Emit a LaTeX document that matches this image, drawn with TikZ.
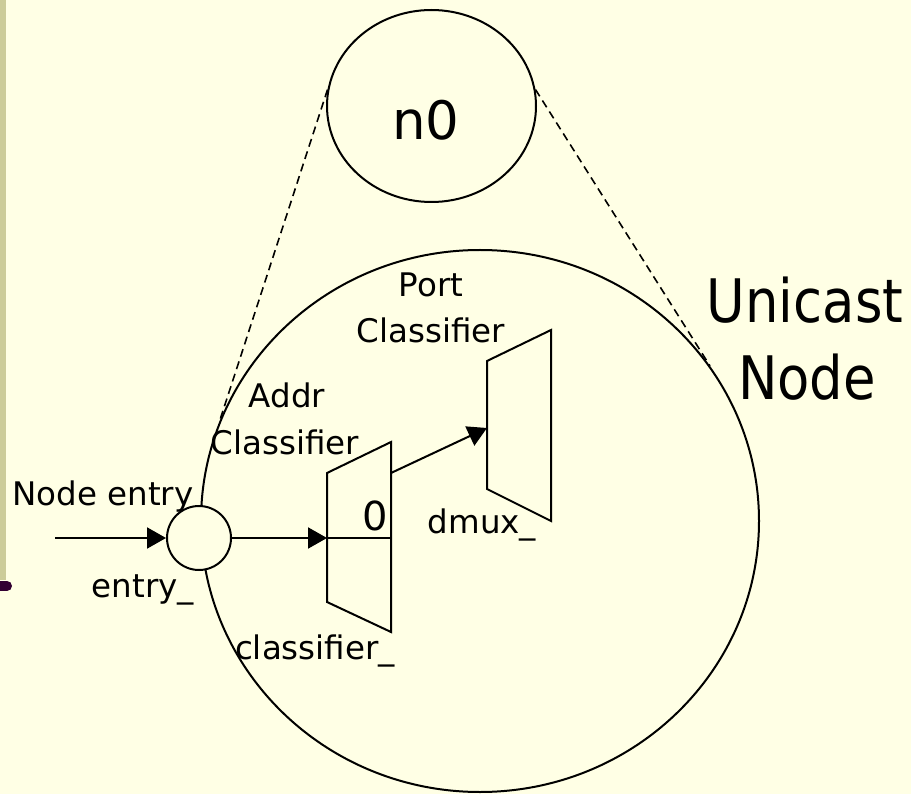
\documentclass[tikz,border=0pt]{standalone}
\usepackage{graphicx}
\usepackage{fontspec}
\setmainfont{DejaVu Sans}
\usetikzlibrary{arrows.meta,shapes.geometric}
\definecolor{bg}{RGB}{255,255,229}
\definecolor{barcol}{RGB}{204,204,153}
\definecolor{dotcol}{RGB}{51,0,51}
\begin{document}
\begin{tikzpicture}[x=1pt,y=-1pt,line width=2pt,
  lbl/.style={font=\fontsize{32.5}{40}\selectfont,inner sep=0,anchor=base},
  biglbl/.style={font=\fontsize{60}{72}\selectfont,inner sep=0,anchor=base},
  arr/.style={-{Triangle[length=19pt,width=21pt]}},
  dashline/.style={dash pattern=on 8pt off 5pt,line width=1.6pt},
  trap/.style={draw,line join=miter}]
\useasboundingbox (0,0) rectangle (911,794);
\fill[bg] (0,0) rectangle (911,794);
\fill[barcol] (0,0) rectangle (6,580);
\draw[dotcol,line width=10pt,line cap=round] (-6,586) -- (7,586);

% big node circle
\node[ellipse,draw,minimum width=558pt,minimum height=542pt,inner sep=0] (uni) at (480,521) {};
% n0 circle
\node[ellipse,draw,minimum width=209pt,minimum height=192pt,inner sep=0] (n0) at (431.5,106) {};
\node[font=\fontsize{53}{60}\selectfont,inner sep=0,anchor=base] (n0lbl) at (426,140) {n0};

% dashed zoom lines
\draw[dashline] (n0.171) -- (uni.159);
\draw[dashline] (n0.9) -- (uni.34);

% entry circle
\node[circle,draw,fill=bg,minimum size=64pt,inner sep=0] (entry) at (199,538) {};
\coordinate (in) at (55,538);
\draw[arr] (in) -- (entry.west);

% classifier trapezoid
\coordinate (c1) at (327,473);
\coordinate (c2) at (391,442);
\coordinate (c3) at (391,632);
\coordinate (c4) at (327,602);
\coordinate (cin) at (327,538);
\coordinate (cmid) at (391,538);
\coordinate (cout) at (391,473);
\draw[trap] (c1) -- (c2) -- (c3) -- (c4) -- cycle;
\draw (cin) -- (cmid);
\draw[arr] (entry.east) -- (cin);
\node[font=\fontsize{40}{48}\selectfont,inner sep=0,anchor=base] (zero) at (375,530) {0};

% dmux trapezoid
\coordinate (d1) at (487,361);
\coordinate (d2) at (551,330);
\coordinate (d3) at (551,521);
\coordinate (d4) at (487,489);
\coordinate (din) at (487,428);
\draw[trap] (d1) -- (d2) -- (d3) -- (d4) -- cycle;
\draw[arr] (cout) -- (din);

% labels
\node[lbl] (nodeentry) at (103,505) {Node entry};
\node[lbl] (entrylbl) at (143,597) {entry\_};
\node[lbl] (addr) at (287,408) {Addr};
\node[lbl] (addrcl) at (285,454) {Classifier};
\node[lbl] (port) at (431,297) {Port};
\node[lbl] (portcl) at (431,343) {Classifier};
\node[lbl] (classlbl) at (315,659) {classifier\_};
\node[lbl] (dmuxlbl) at (482,533) {dmux\_};
\node[biglbl] (unicast) at (805,323) {\scalebox{0.88}[1]{Unicast}};
\node[biglbl] (nodelbl) at (807,400) {\scalebox{0.88}[1]{Node}};
\end{tikzpicture}
\end{document}
